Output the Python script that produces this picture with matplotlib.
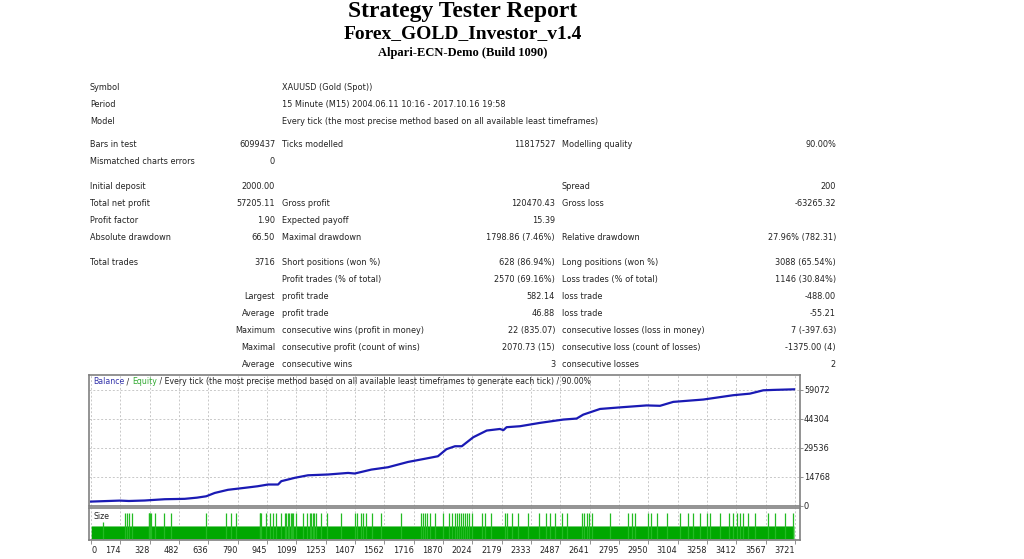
import matplotlib
matplotlib.use("Agg")
import matplotlib.pyplot as plt
import numpy as np

# Texte du rapport
titre = "Strategy Tester Report"
expert = "Forex_GOLD_Investor_v1.4"
serveur = "Alpari-ECN-Demo (Build 1090)"

entete = [
    ("Symbol", "XAUUSD (Gold (Spot))"),
    ("Period", "15 Minute (M15) 2004.06.11 10:16 - 2017.10.16 19:58"),
    ("Model", "Every tick (the most precise method based on all available least timeframes)"),
]

stats = [
    ("Bars in test", "6099437", "Ticks modelled", "11817527", "Modelling quality", "90.00%"),
    ("Mismatched charts errors", "0", "", "", "", ""),
    ("Initial deposit", "2000.00", "", "", "Spread", "200"),
    ("Total net profit", "57205.11", "Gross profit", "120470.43", "Gross loss", "-63265.32"),
    ("Profit factor", "1.90", "Expected payoff", "15.39", "", ""),
    ("Absolute drawdown", "66.50", "Maximal drawdown", "1798.86 (7.46%)", "Relative drawdown", "27.96% (782.31)"),
    ("Total trades", "3716", "Short positions (won %)", "628 (86.94%)", "Long positions (won %)", "3088 (65.54%)"),
    ("", "", "Profit trades (% of total)", "2570 (69.16%)", "Loss trades (% of total)", "1146 (30.84%)"),
    ("", "Largest", "profit trade", "582.14", "loss trade", "-488.00"),
    ("", "Average", "profit trade", "46.88", "loss trade", "-55.21"),
    ("", "Maximum", "consecutive wins (profit in money)", "22 (835.07)", "consecutive losses (loss in money)", "7 (-397.63)"),
    ("", "Maximal", "consecutive profit (count of wins)", "2070.73 (15)", "consecutive loss (count of losses)", "-1375.00 (4)"),
    ("", "Average", "consecutive wins", "3", "consecutive losses", "2"),
]

# Courbe de balance (numéro de trade, solde)
bal_trade = [0, 60, 152, 200, 284, 340, 390, 495, 560, 609, 654, 724, 812, 880, 936,
             989, 1006, 1077, 1147, 1253, 1359, 1394, 1482, 1570, 1676, 1764, 1834,
             1879, 1924, 1960, 2021, 2092, 2162, 2180, 2197, 2268, 2373, 2497, 2567,
             2602, 2691, 2796, 2937, 3008, 3078, 3237, 3395, 3483, 3554, 3607, 3716]
bal_value = [2000, 2200, 2500, 2300, 2550, 2900, 3200, 3400, 4000, 4700, 6400, 8000,
             9000, 9800, 10700, 10700, 12400, 14100, 15400, 15800, 16600, 16300, 18300,
             19500, 22200, 23800, 25100, 28700, 30200, 30200, 34800, 38200, 39000, 38400,
             39900, 40400, 42100, 43800, 44300, 46300, 49200, 50000, 51000, 50800, 52800,
             54000, 56200, 57000, 58700, 58900, 59205]

x_labels = ["0", "174", "328", "482", "636", "790", "945", "1099", "1253", "1407", "1562",
            "1716", "1870", "2024", "2179", "2333", "2487", "2641", "2795", "2950", "3104",
            "3258", "3412", "3567", "3721"]
y_ticks = [0, 14768, 29536, 44304, 59072]

# Tailles des lots
n_trades = 3716
lot_base = 0.1
lot_grand = 0.2
trades_grands = [181, 192, 202, 218, 304, 308, 312, 316, 337, 386, 421, 609, 715, 742, 765,
                 892, 896, 900, 927, 945, 962, 980, 1003, 1024, 1032, 1040, 1048, 1056, 1064,
                 1068, 1085, 1121, 1143, 1156, 1164, 1172, 1180, 1190, 1217, 1249, 1320, 1394,
                 1408, 1426, 1438, 1455, 1487, 1535, 1640, 1746, 1755, 1765, 1775, 1790, 1817,
                 1862, 1894, 1907, 1924, 1936, 1946, 1956, 1966, 1977, 1986, 2000, 2012, 2065,
                 2083, 2113, 2188, 2197, 2224, 2259, 2312, 2370, 2405, 2426, 2453, 2488, 2515,
                 2594, 2606, 2620, 2634, 2647, 2743, 2840, 2858, 2876, 2946, 2959, 2990, 3043,
                 3113, 3157, 3184, 3219, 3255, 3272, 3325, 3374, 3395, 3413, 3431, 3448, 3475,
                 3510, 3580, 3616, 3669, 3709]
trade_moyen = 63
lot_moyen = 0.13

W, H = 1024, 559


def px(x, y):
    return x / W, 1 - y / H


fig = plt.figure(figsize=(W / 100, H / 100), dpi=100)
fig.patch.set_facecolor("white")

# Titres
fig.text(*px(463, 12), titre, ha="center", va="center", family="Liberation Serif",
         weight="bold", fontsize=17)
fig.text(*px(463, 34), expert, ha="center", va="center", family="Liberation Serif",
         weight="bold", fontsize=14)
fig.text(*px(463, 53), serveur, ha="center", va="center", family="Liberation Serif",
         weight="bold", fontsize=9)

# Tableau (alignement sur la ligne de base pour des lignes régulières)
couleur_txt = "#222222"
fs = 5.9
base = 3
for (lab, val), y in zip(entete, [87, 104, 121]):
    fig.text(*px(90, y + base), lab, ha="left", va="baseline", fontsize=fs, color=couleur_txt)
    fig.text(*px(282, y + base), val, ha="left", va="baseline", fontsize=fs, color=couleur_txt)

lignes_y = [144, 161, 186, 203, 220, 237, 262, 279, 296, 313, 330, 347, 364]
for ligne, y in zip(stats, lignes_y):
    l1, v1, l2, v2, l3, v3 = ligne
    yb = y + base
    fig.text(*px(90, yb), l1, ha="left", va="baseline", fontsize=fs, color=couleur_txt)
    fig.text(*px(275, yb), v1, ha="right", va="baseline", fontsize=fs, color=couleur_txt)
    fig.text(*px(282, yb), l2, ha="left", va="baseline", fontsize=fs, color=couleur_txt)
    fig.text(*px(555, yb), v2, ha="right", va="baseline", fontsize=fs, color=couleur_txt)
    fig.text(*px(562, yb), l3, ha="left", va="baseline", fontsize=fs, color=couleur_txt)
    fig.text(*px(836, yb), v3, ha="right", va="baseline", fontsize=fs, color=couleur_txt)

# Graphique de balance
x_pos = np.linspace(0, 3721, len(x_labels))
xmin, xmax = -10.6, 3748

ax = fig.add_axes([89 / W, 1 - 506 / H, 711 / W, 131 / H])
ax.plot(bal_trade, bal_value, color="#1a1ab4", lw=1.6, solid_joinstyle="round")
ax.set_xlim(xmin, xmax)
ax.set_ylim(-250, 66500)
ax.set_xticks(x_pos)
ax.set_xticklabels([])
ax.set_yticks(y_ticks)
ax.set_yticklabels([str(v) for v in y_ticks])
ax.yaxis.tick_right()
ax.tick_params(axis="y", length=2, width=0.6, colors="#808080", labelcolor=couleur_txt,
               labelsize=fs, pad=0.8)
ax.tick_params(axis="x", length=0)
ax.grid(True, color="#c8c8c8", ls=(0, (2, 2)), lw=0.7)
for s in ax.spines.values():
    s.set_color("#808080")
    s.set_linewidth(1.2)

fs_leg = fs - 0.3
leg = fig.text(*px(93, 382), "Balance", ha="left", va="center", fontsize=fs_leg,
               color="#3333aa")
morceaux = [(" / ", couleur_txt), ("Equity", "#33aa33"),
            (" / Every tick (the most precise method based on all available least timeframes to generate each tick) / 90.00%", couleur_txt)]
prec = leg
for txt, c in morceaux:
    prec = ax.annotate(txt, xy=(1, 0), xycoords=prec, va="bottom", ha="left",
                       fontsize=fs_leg, color=c)

# Panneau des tailles
ax2 = fig.add_axes([89 / W, 1 - 540 / H, 711 / W, 32 / H])
trades = np.arange(1, n_trades + 1)
tailles = np.full(n_trades, lot_base)
ax2.fill_between(trades, 0, tailles, color="#00a800", lw=0)
ax2.vlines(trades_grands, 0, lot_grand, color="#22bb22", lw=0.9)
ax2.vlines([trade_moyen], 0, lot_moyen, color="#22bb22", lw=0.9)
ax2.set_xlim(xmin, xmax)
ax2.set_ylim(-0.008, 0.238)
ax2.set_yticks([])
ax2.set_xticks(x_pos)
ax2.set_xticklabels(x_labels)
ax2.tick_params(axis="x", length=3, width=0.6, colors="#808080", labelcolor=couleur_txt,
                labelsize=fs, pad=1.2)
for i, lbl in enumerate(ax2.get_xticklabels()):
    lbl.set_ha("left" if i == 0 else "right")
ax2.grid(True, axis="x", color="#c8c8c8", ls=(0, (2, 2)), lw=0.7)
ax2.set_axisbelow(True)
for s in ax2.spines.values():
    s.set_color("#808080")
    s.set_linewidth(1.2)
ax2.text(4 / 711, 0.72, "Size", transform=ax2.transAxes, ha="left", va="center",
         fontsize=fs_leg, color=couleur_txt)

fig.savefig("out.png", dpi=100)
